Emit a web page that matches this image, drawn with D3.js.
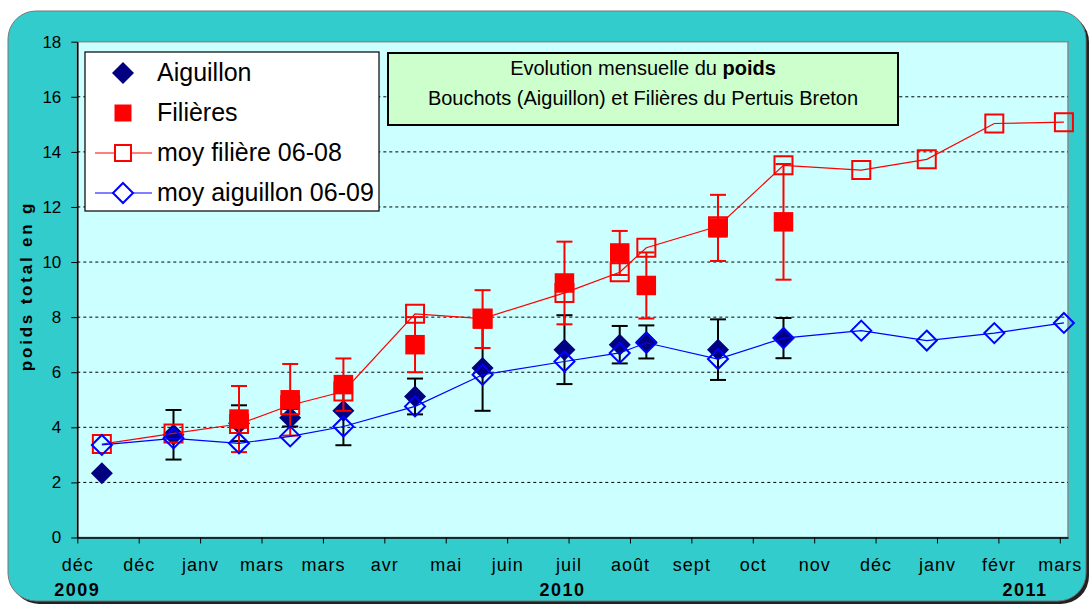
<!DOCTYPE html>
<html>
<head>
<meta charset="utf-8">
<script src="https://cdn.jsdelivr.net/npm/d3@7"></script>
<style>
  body { margin: 0; background: #fff; }
  svg text { font-family: "Liberation Sans", Arial, sans-serif; }
</style>
</head>
<body>
<svg id="chart" width="1089" height="607"></svg>
<script>
// dates of the sampling campaigns (shared by all series)
let sampleDates = ["2009-12-13", "2010-01-17", "2010-02-18", "2010-03-15", "2010-04-10", "2010-05-15",
                   "2010-06-17", "2010-07-27", "2010-08-23", "2010-09-05", "2010-10-10", "2010-11-11",
                   "2010-12-19", "2011-01-20", "2011-02-22", "2011-03-28"]

// Aiguillon (bouchots) - first 12 dates
let aiguillon = [2.33, 3.73, 4.15, 4.35, 4.6, 5.12, 6.15, 6.82, 7.0, 7.1, 6.82, 7.24]
let aiguillonErr = [0, 0.9, 0.65, 0.32, 1.25, 0.65, 1.55, 1.25, 0.68, 0.6, 1.1, 0.73]

// Filieres - dates 3 to 12
let filieres = [4.3, 5.0, 5.55, 7.0, 7.93, 9.24, 10.33, 9.15, 11.24, 11.46]
let filieresErr = [1.2, 1.3, 0.95, 1.0, 1.05, 1.5, 0.8, 1.2, 1.2, 2.1]
let filieresStart = 2

let moyFiliere = [3.39, 3.78, 4.12, 4.8, 5.3, 8.12, 7.95, 8.88, 9.63, 10.52, 11.3, 13.51, 13.34, 13.73, 15.03, 15.08]
let moyAiguillon = [3.36, 3.6, 3.42, 3.67, 4.03, 4.76, 5.91, 6.39, 6.7, 7.07, 6.48, 7.24, 7.51, 7.15, 7.42, 7.79]

// x axis : ticks every 30 days from 1 dec 2009
let tickLabels = ["déc", "déc", "janv", "mars", "mars", "avr", "mai", "juin", "juil",
                  "août", "sept", "oct", "nov", "déc", "janv", "févr", "mars"]
let yearLabels = ["2009", "2010", "2011"]
let yearDates = ["2009-12-01", "2010-07-26", "2011-03-09"]
let yTicks = [0, 2, 4, 6, 8, 10, 12, 14, 16, 18]

let legendLabels = ["Aiguillon", "Filières", "moy filière 06-08", "moy aiguillon 06-09"]

let parse = d3.utcParse("%Y-%m-%d")
let start = parse("2009-12-01")
let tickDates = tickLabels.map((d, i) => d3.utcDay.offset(start, 30 * i))

let svg = d3.select('#chart')

// outer frame
svg.append('rect').attr('x', 11).attr('y', 14).attr('width', 1078).attr('height', 590)
    .attr('rx', 28).attr('fill', '#222')
svg.append('rect').attr('x', 8).attr('y', 11).attr('width', 1078).attr('height', 590)
    .attr('rx', 28).attr('fill', '#33CCCC').attr('stroke', '#777').attr('stroke-width', 1)

let plot = {left: 77.3, right: 1068, top: 41.7, bottom: 537.5}

let x = d3.scaleUtc().domain([start, parse("2011-03-30")]).range([plot.left, plot.right])
let y = d3.scaleLinear().domain([0, 18]).range([plot.bottom, plot.top])

svg.append('rect').attr('x', plot.left).attr('y', plot.top)
    .attr('width', plot.right - plot.left).attr('height', plot.bottom - plot.top)
    .attr('fill', '#CCFFFF').attr('stroke', '#888').attr('stroke-width', 1.5)

// gridlines
svg.append('g').selectAll('line')
    .data(yTicks.filter(d => d > 0 && d < 18))
    .enter().append('line')
    .attr('x1', plot.left).attr('x2', plot.right)
    .attr('y1', d => y(d)).attr('y2', d => y(d))
    .attr('stroke', '#000').attr('stroke-width', 1).attr('stroke-dasharray', '3,3')

// axes
let yAxis = svg.append('g').attr('transform', `translate(${plot.left},0)`)
    .call(d3.axisLeft(y).tickValues(yTicks).tickSize(6).tickSizeOuter(0).tickPadding(10))
yAxis.select('.domain').attr('stroke', '#000').attr('stroke-width', 1.5)
yAxis.selectAll('line').attr('stroke', '#000')
yAxis.selectAll('text').attr('font-size', 17).attr('fill', '#000')
    .style('font-family', '"Liberation Sans", Arial, sans-serif')

let xAxis = svg.append('g').attr('transform', `translate(0,${plot.bottom})`)
    .call(d3.axisBottom(x).tickValues(tickDates).tickFormat((d, i) => tickLabels[i]).tickSize(6).tickSizeOuter(0))
xAxis.select('.domain').attr('stroke', '#000').attr('stroke-width', 1.5)
xAxis.selectAll('line').attr('stroke', '#000')
xAxis.selectAll('text').attr('y', 33).attr('dy', 0).attr('font-size', 18)
    .attr('letter-spacing', 1).attr('fill', '#000')
    .style('font-family', '"Liberation Sans", Arial, sans-serif')

svg.append('g').selectAll('text')
    .data(yearLabels)
    .enter().append('text')
    .attr('x', (d, i) => x(parse(yearDates[i])))
    .attr('y', 596)
    .attr('text-anchor', 'middle')
    .attr('font-size', 18).attr('font-weight', 'bold').attr('letter-spacing', 1.5)
    .text(d => d)

svg.append('text')
    .attr('transform', 'translate(32,286) rotate(-90)')
    .attr('text-anchor', 'middle')
    .attr('font-size', 17).attr('font-weight', 'bold').attr('letter-spacing', 2.8)
    .text('poids total en g')

// marker shapes
let diamond = r => `M0,${-r}L${r},0L0,${r}L${-r},0Z`
let square = s => `M${-s / 2},${-s / 2}h${s}v${s}h${-s}Z`

function errorBars(g, data, color) {
    let bars = g.selectAll('g.err').data(data.filter(d => d.err > 0)).enter().append('g')
        .attr('stroke', color).attr('stroke-width', 2)
    bars.append('line').attr('x1', d => x(d.date)).attr('x2', d => x(d.date))
        .attr('y1', d => y(d.value + d.err)).attr('y2', d => y(d.value - d.err))
    bars.append('line').attr('x1', d => x(d.date) - 8).attr('x2', d => x(d.date) + 8)
        .attr('y1', d => y(d.value + d.err)).attr('y2', d => y(d.value + d.err))
    bars.append('line').attr('x1', d => x(d.date) - 8).attr('x2', d => x(d.date) + 8)
        .attr('y1', d => y(d.value - d.err)).attr('y2', d => y(d.value - d.err))
}

let aigData = aiguillon.map((v, i) => ({date: parse(sampleDates[i]), value: v, err: aiguillonErr[i]}))
let filData = filieres.map((v, i) => ({date: parse(sampleDates[i + filieresStart]), value: v, err: filieresErr[i]}))
let moyFilData = moyFiliere.map((v, i) => ({date: parse(sampleDates[i]), value: v}))
let moyAigData = moyAiguillon.map((v, i) => ({date: parse(sampleDates[i]), value: v}))

let line = d3.line().x(d => x(d.date)).y(d => y(d.value))

// series 1 : Aiguillon
let g1 = svg.append('g')
errorBars(g1, aigData, '#000')
g1.selectAll('path.m').data(aigData).enter().append('path')
    .attr('d', diamond(11)).attr('transform', d => `translate(${x(d.date)},${y(d.value)})`)
    .attr('fill', '#000080')

// series 2 : Filieres
let g2 = svg.append('g')
errorBars(g2, filData, '#FF0000')
g2.selectAll('path.m').data(filData).enter().append('path')
    .attr('d', square(19.5)).attr('transform', d => `translate(${x(d.date)},${y(d.value)})`)
    .attr('fill', '#FF0000')

// series 3 : moy filiere
let g3 = svg.append('g')
g3.append('path').attr('d', line(moyFilData)).attr('fill', 'none')
    .attr('stroke', '#FF0000').attr('stroke-width', 1.2)
g3.selectAll('path.m').data(moyFilData).enter().append('path')
    .attr('d', square(18)).attr('transform', d => `translate(${x(d.date)},${y(d.value)})`)
    .attr('fill', 'none').attr('stroke', '#FF0000').attr('stroke-width', 2)

// series 4 : moy aiguillon
let g4 = svg.append('g')
g4.append('path').attr('d', line(moyAigData)).attr('fill', 'none')
    .attr('stroke', '#0000FF').attr('stroke-width', 1.2)
g4.selectAll('path.m').data(moyAigData).enter().append('path')
    .attr('d', diamond(10)).attr('transform', d => `translate(${x(d.date)},${y(d.value)})`)
    .attr('fill', 'none').attr('stroke', '#0000FF').attr('stroke-width', 2)

// legend
let legend = svg.append('g')
legend.append('rect').attr('x', 85).attr('y', 52).attr('width', 294).attr('height', 159)
    .attr('fill', '#fff').attr('stroke', '#000').attr('stroke-width', 1.2)
let rows = legend.selectAll('g.row').data(legendLabels).enter().append('g')
    .attr('transform', (d, i) => `translate(0,${73 + i * 40})`)
rows.append('text').attr('x', 157).attr('y', 8).attr('font-size', 25).text(d => d)
rows.filter((d, i) => i >= 2).append('line').attr('x1', 95).attr('x2', 152)
    .attr('stroke', (d, i) => i === 0 ? '#FF0000' : '#0000FF').attr('stroke-width', 1.2)
rows.append('path')
    .attr('transform', 'translate(123,0)')
    .attr('d', (d, i) => [diamond(11), square(17), square(16), diamond(10)][i])
    .attr('fill', (d, i) => ['#000080', '#FF0000', '#fff', '#fff'][i])
    .attr('stroke', (d, i) => [null, null, '#FF0000', '#0000FF'][i])
    .attr('stroke-width', 2)

// title box
let title = svg.append('g')
title.append('rect').attr('x', 388).attr('y', 53).attr('width', 510).attr('height', 72)
    .attr('fill', '#CCFFCC').attr('stroke', '#000').attr('stroke-width', 2)
let t1 = title.append('text').attr('x', 643).attr('y', 75).attr('text-anchor', 'middle').attr('font-size', 20)
t1.append('tspan').text('Evolution mensuelle du ')
t1.append('tspan').attr('font-weight', 'bold').text('poids')
title.append('text').attr('x', 643).attr('y', 105).attr('text-anchor', 'middle').attr('font-size', 20)
    .text('Bouchots (Aiguillon) et Filières du Pertuis Breton')
</script>
</body>
</html>
